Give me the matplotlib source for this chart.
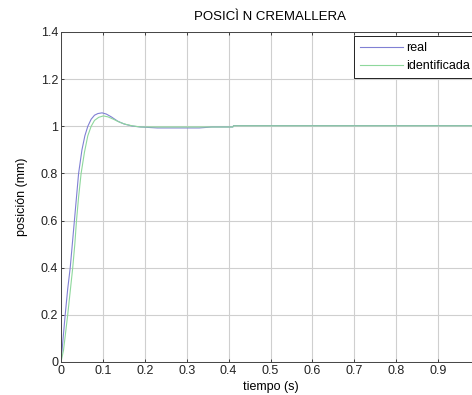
import matplotlib
matplotlib.use("Agg")
import matplotlib.pyplot as plt

# step responses
t_real = [0, 0.004, 0.010, 0.016, 0.022, 0.027, 0.032, 0.037, 0.042, 0.050, 0.057, 0.064,
          0.072, 0.080, 0.088, 0.098, 0.108, 0.120, 0.135, 0.150, 0.170, 0.190, 0.230,
          0.330, 0.360, 0.410, 0.412, 1.05]
y_real = [0, 0.08, 0.20, 0.31, 0.40, 0.50, 0.60, 0.70, 0.80, 0.90, 0.96, 1.00,
          1.03, 1.047, 1.054, 1.057, 1.052, 1.040, 1.022, 1.010, 1.001, 0.997, 0.993,
          0.993, 0.997, 0.997, 1.003, 1.003]

t_ident = [0, 0.006, 0.016, 0.022, 0.028, 0.033, 0.037, 0.042, 0.048, 0.056, 0.064, 0.072,
           0.080, 0.090, 0.101, 0.112, 0.125, 0.140, 0.155, 0.170, 0.190, 0.410, 0.412, 1.05]
y_ident = [0, 0.05, 0.20, 0.30, 0.40, 0.50, 0.60, 0.70, 0.80, 0.89, 0.96, 1.00,
           1.025, 1.038, 1.044, 1.040, 1.030, 1.017, 1.008, 1.002, 0.997, 0.997, 1.002, 1.002]

xticks = [0, 0.1, 0.2, 0.3, 0.4, 0.5, 0.6, 0.7, 0.8, 0.9]
yticks = [0, 0.2, 0.4, 0.6, 0.8, 1, 1.2, 1.4]
ytick_labels = ["0", "0.2", "0.4", "0.6", "0.8", "1", "1.2", "1.4"]

plt.rcParams["font.family"] = ["Liberation Sans", "DejaVu Sans"]

fig = plt.figure(figsize=(4.72, 3.95), dpi=100)
ax = fig.add_axes([61 / 472, 33 / 395, 419 / 472, 330 / 395])

ax.plot(t_real, y_real, color="#8080d4", lw=0.8, label="real")
ax.plot(t_ident, y_ident, color="#8ed89c", lw=0.8, label="identificada")

ax.set_xlim(0, 1)
ax.set_ylim(0, 1.4)
ax.set_xticks(xticks)
ax.set_xticklabels([f"{v:g}" for v in xticks])
ax.set_yticks(yticks)
ax.set_yticklabels(ytick_labels)
ax.tick_params(direction="in", length=2.5, width=0.6, labelsize=9, top=True,
               colors="#222222", pad=2)
ax.grid(True, color="#cfcfcf", lw=0.8)
for s in ax.spines.values():
    s.set_color("#444444")
    s.set_linewidth(0.7)

ax.set_title("POSICÌ N CREMALLERA", fontsize=9.5, pad=9)
ax.set_xlabel("tiempo (s)", fontsize=9, labelpad=3)
ax.set_ylabel("posición (mm)", fontsize=9, labelpad=9)

leg = ax.legend(loc="upper left", bbox_to_anchor=(354 / 472, 1 - 36 / 395),
                bbox_transform=fig.transFigure, fontsize=9, fancybox=False,
                framealpha=1, edgecolor="#222222", handlelength=3.4,
                handletextpad=0.3, borderaxespad=0, borderpad=0.5,
                labelspacing=0.45)
leg.get_frame().set_linewidth(0.7)

fig.savefig("out.png", dpi=100)
